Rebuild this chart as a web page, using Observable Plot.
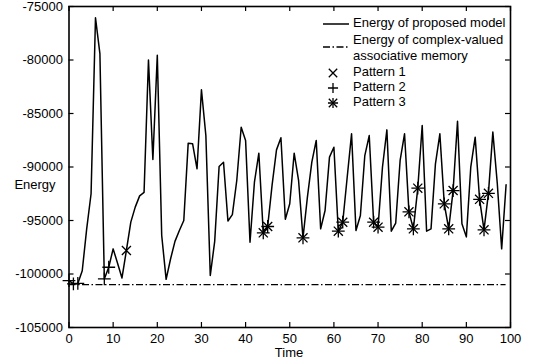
<!DOCTYPE html>
<html><head><meta charset="utf-8">
<script src="https://cdn.jsdelivr.net/npm/d3@7"></script>
<script src="https://cdn.jsdelivr.net/npm/@observablehq/plot@0.6"></script>
<style>
body{margin:0;background:#fff;}
#c{width:539px;height:363px;}
svg{font-family:"Liberation Sans",Arial,Helvetica,sans-serif;}
</style>
</head><body><div id="c"></div>
<script>
// Energy of proposed model, one value per time step 0..99
const energy = [
 -100620,-100920,-100880,-99700,-95800,-92500,-76050,-79400,-100460,-99370,
 -97650,-99000,-100370,-97800,-95150,-93750,-92700,-92380,-80000,-89300,
 -79550,-96400,-100500,-98600,-96950,-95930,-95000,-87770,-87830,-90170,
 -82790,-87060,-100140,-96950,-89950,-89550,-95050,-94450,-91260,-86280,
 -87520,-97030,-91420,-88710,-96150,-95560,-91700,-88400,-87270,-94880,
 -93440,-88710,-91260,-96620,-92820,-89550,-87520,-95780,-94070,-89080,
 -88150,-96000,-95160,-91000,-86900,-95930,-94530,-88930,-87060,-95160,
 -95620,-90020,-86530,-96000,-95240,-89390,-86900,-94190,-95780,-91980,
 -86120,-96000,-95780,-89700,-86900,-93440,-95780,-92200,-85720,-95300,
 -96530,-90020,-87210,-93020,-95870,-92460,-86740,-91500,-97650,-91660
];
const complexEnergy = -101000;
const pattern1Times = [13];
const pattern2Times = [0, 1, 2, 8, 9];
const pattern3Times = [44, 45, 53, 61, 62, 69, 70, 77, 78, 79, 85, 86, 87, 93, 94, 95];
const xTicks = [0, 10, 20, 30, 40, 50, 60, 70, 80, 90, 100];
const yTicks = [-105000, -100000, -95000, -90000, -85000, -80000, -75000];

const xDom = [0, 100], yDom = [-105000, -75000];
const W = 539, H = 363, mL = 68.5, mR = 29, mT = 6, mB = 36;
const tickPx = 5;
const tx_ = tickPx * (xDom[1] - xDom[0]) / (W - mL - mR);   // tick length in x units
const ty_ = tickPx * (yDom[1] - yDom[0]) / (H - mT - mB);   // tick length in y units

const series = energy.map((e, t) => ({t, e}));
const pts = ts => ts.map(t => ({t, e: energy[t]}));
const fmt = d => String(d);
const tickStyle = {stroke: "black", strokeWidth: 1.2};

const plot = Plot.plot({
  width: W, height: H,
  marginLeft: mL, marginRight: mR, marginTop: mT, marginBottom: mB,
  style: {fontFamily: '"Liberation Sans",Arial,sans-serif', fontSize: "13px", background: "#fff", overflow: "visible"},
  x: {domain: xDom},
  y: {domain: yDom},
  marks: [
    Plot.ruleY([complexEnergy], {x1: 0, x2: 99, stroke: "black", strokeWidth: 1.3, strokeDasharray: "7,2.5,1.5,2.5"}),
    Plot.line(series, {x: "t", y: "e", stroke: "black", strokeWidth: 1.5}),
    Plot.dot(pts(pattern1Times), {x: "t", y: "e", symbol: "times", r: 4.2, stroke: "black", strokeWidth: 1.3}),
    Plot.dot(pts(pattern2Times), {x: "t", y: "e", symbol: "plus", r: 4.2, stroke: "black", strokeWidth: 1.3}),
    Plot.dot(pts(pattern3Times), {x: "t", y: "e", symbol: "plus", r: 4.2, stroke: "black", strokeWidth: 1.3}),
    Plot.dot(pts(pattern3Times), {x: "t", y: "e", symbol: "times", r: 4.2, stroke: "black", strokeWidth: 1.3}),
    // inward ticks on all four sides
    Plot.ruleX(xTicks, {x: d => d, y1: yDom[0], y2: yDom[0] + ty_, ...tickStyle}),
    Plot.ruleX(xTicks, {x: d => d, y1: yDom[1], y2: yDom[1] - ty_, ...tickStyle}),
    Plot.ruleY(yTicks, {y: d => d, x1: xDom[0], x2: xDom[0] + tx_, ...tickStyle}),
    Plot.ruleY(yTicks, {y: d => d, x1: xDom[1], x2: xDom[1] - tx_, ...tickStyle}),
    Plot.axisX(xTicks, {anchor: "bottom", tickSize: 0, tickPadding: 6, tickFormat: fmt, label: null, fill: "black", fontSize: 13}),
    Plot.axisY(yTicks, {anchor: "left", tickSize: 0, tickPadding: 6, tickFormat: fmt, label: null, fill: "black", fontSize: 13}),
    Plot.frame({stroke: "black", strokeWidth: 1.6})
  ]
});
document.getElementById("c").appendChild(plot);

// axis titles and legend
const svg = d3.select(plot);
svg.append("text").attr("x", 289).attr("y", 354).attr("text-anchor", "middle")
  .attr("dominant-baseline", "middle").attr("font-size", 13).text("Time");
svg.append("text").attr("x", 35).attr("y", 186).attr("text-anchor", "middle")
  .attr("dominant-baseline", "middle").attr("font-size", 13).text("Energy");

const lg = svg.append("g").attr("font-size", 13).attr("fill", "black").attr("text-anchor", "start");
const tx = 353, sx0 = 323, sx1 = 349, mx = 333;
const label = (y, s) => lg.append("text").attr("x", tx).attr("y", y).attr("text-anchor", "start").attr("dominant-baseline", "middle").text(s);
lg.append("line").attr("x1", sx0).attr("x2", sx1).attr("y1", 24).attr("y2", 24).attr("stroke", "black").attr("stroke-width", 1.5);
label(24, "Energy of proposed model");
lg.append("line").attr("x1", sx0).attr("x2", sx1).attr("y1", 47).attr("y2", 47).attr("stroke", "black").attr("stroke-width", 1.3).attr("stroke-dasharray", "7,2.5,1.5,2.5");
label(41, "Energy of complex-valued");
label(57, "associative memory");
const r = 4.2;
const mk = (y, kinds) => {
  kinds.forEach(k => {
    const p = k === "times" ? `M${mx-r},${y-r}L${mx+r},${y+r}M${mx-r},${y+r}L${mx+r},${y-r}`
                            : `M${mx-r*1.2},${y}L${mx+r*1.2},${y}M${mx},${y-r*1.2}L${mx},${y+r*1.2}`;
    lg.append("path").attr("d", p).attr("stroke", "black").attr("stroke-width", 1.3).attr("fill", "none");
  });
};
mk(73, ["times"]); label(73, "Pattern 1");
mk(88, ["plus"]); label(88, "Pattern 2");
mk(103, ["plus", "times"]); label(103, "Pattern 3");
</script>
</body></html>
